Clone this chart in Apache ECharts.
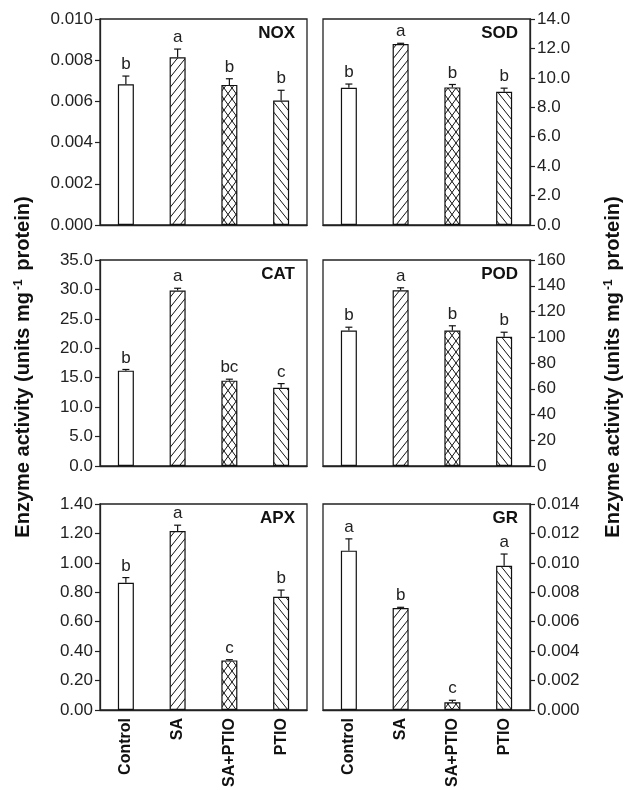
<!DOCTYPE html>
<html>
<head>
<meta charset="utf-8">
<script src="https://cdn.jsdelivr.net/npm/echarts@6/dist/echarts.min.js"></script>
<style>
    html, body { margin: 0; padding: 0; background: #fff; }
    #chart { width: 628px; height: 790px; }
</style>
</head>
<body>
<div id="chart"></div>
<script>
var categories = ['Control', 'SA', 'SA+PTIO', 'PTIO'];

var noxMean = [0.00683, 0.00814, 0.00680, 0.00604];
var noxErr = [0.0004, 0.0004, 0.0003, 0.0005];
var noxLetters = ['b', 'a', 'b', 'b'];

var sodMean = [9.33, 12.3, 9.35, 9.05];
var sodErr = [0.25, 0.05, 0.2, 0.25];
var sodLetters = ['b', 'a', 'b', 'b'];

var catMean = [16.2, 29.8, 14.5, 13.3];
var catErr = [0.2, 0.4, 0.25, 0.7];
var catLetters = ['b', 'a', 'bc', 'c'];

var podMean = [105.2, 136.5, 105.2, 100.3];
var podErr = [2.6, 1.9, 3.7, 3.6];
var podLetters = ['b', 'a', 'b', 'b'];

var apxMean = [0.865, 1.216, 0.337, 0.770];
var apxErr = [0.035, 0.04, 0.005, 0.045];
var apxLetters = ['b', 'a', 'c', 'b'];

var grMean = [0.01083, 0.00693, 0.00052, 0.0098];
var grErr = [0.0008, 0.00005, 0.00014, 0.0008];
var grLetters = ['a', 'b', 'c', 'a'];

// axis scales: [max, interval, decimals]
var noxScale = [0.010, 0.002, 3];
var sodScale = [14, 2, 1];
var catScale = [35, 5, 1];
var podScale = [160, 20, 0];
var apxScale = [1.4, 0.2, 2];
var grScale = [0.014, 0.002, 3];

var yTitle = 'Enzyme activity (units mg{sup|-1} protein)';

var FONT = '"Liberation Sans", Arial, Helvetica, sans-serif';

// hatch pattern tiles
function makeTile(w, h, dirs) {
    var c = document.createElement('canvas');
    c.width = w;
    c.height = h;
    var ctx = c.getContext('2d');
    ctx.fillStyle = '#fff';
    ctx.fillRect(0, 0, w, h);
    ctx.strokeStyle = '#111';
    ctx.lineWidth = 1;
    dirs.forEach(function (d) {
        for (var k = -1; k <= 1; k++) {
            ctx.beginPath();
            if (d === '/') {
                ctx.moveTo(k * w, h);
                ctx.lineTo(k * w + w, 0);
            } else {
                ctx.moveTo(k * w, 0);
                ctx.lineTo(k * w + w, h);
            }
            ctx.stroke();
        }
    });
    return c;
}

var fills = [
    '#fff',
    {image: makeTile(8, 10, ['/']), repeat: 'repeat'},
    {image: makeTile(8, 11, ['/', '\\']), repeat: 'repeat'},
    {image: makeTile(8, 10, ['\\']), repeat: 'repeat'}
];

var panels = [
    {name: 'NOX', mean: noxMean, err: noxErr, letters: noxLetters, scale: noxScale, col: 0, row: 0},
    {name: 'SOD', mean: sodMean, err: sodErr, letters: sodLetters, scale: sodScale, col: 1, row: 0},
    {name: 'CAT', mean: catMean, err: catErr, letters: catLetters, scale: catScale, col: 0, row: 1},
    {name: 'POD', mean: podMean, err: podErr, letters: podLetters, scale: podScale, col: 1, row: 1},
    {name: 'APX', mean: apxMean, err: apxErr, letters: apxLetters, scale: apxScale, col: 0, row: 2},
    {name: 'GR', mean: grMean, err: grErr, letters: grLetters, scale: grScale, col: 1, row: 2}
];

var colLeft = [100, 323];
var rowTop = [19, 260, 504];
var gridW = 207;
var gridH = 206;

var grids = [], xAxes = [], yAxes = [], series = [], graphics = [];

panels.forEach(function (p, i) {
    var left = colLeft[p.col];
    var top = rowTop[p.row];

    grids.push({
        left: left, top: top, width: gridW, height: gridH,
        show: true, borderColor: '#222', borderWidth: 1.3, backgroundColor: 'transparent'
    });

    xAxes.push({
        type: 'category',
        gridIndex: i,
        data: categories,
        axisLine: {show: true, lineStyle: {color: '#222', width: 1.3}},
        axisTick: {show: false},
        axisLabel: {
            show: p.row === 2,
            rotate: 90,
            margin: 8,
            fontFamily: FONT,
            fontSize: 16,
            fontWeight: 'bold',
            color: '#111'
        }
    });

    var decimals = p.scale[2];
    yAxes.push({
        type: 'value',
        gridIndex: i,
        position: p.col === 0 ? 'left' : 'right',
        min: 0,
        max: p.scale[0],
        interval: p.scale[1],
        splitLine: {show: false},
        axisLine: {show: true, lineStyle: {color: '#222', width: 1.3}},
        axisTick: {show: true, length: 5, lineStyle: {color: '#222', width: 1.2}},
        axisLabel: {
            margin: 7,
            fontFamily: FONT,
            fontSize: 17,
            color: '#222',
            formatter: function (v) {
                return v.toFixed(decimals);
            }
        }
    });

    series.push({
        type: 'bar',
        xAxisIndex: i,
        yAxisIndex: i,
        barWidth: 16,
        data: p.mean.map(function (v, k) {
            return {
                value: v,
                itemStyle: {color: fills[k], borderColor: '#111', borderWidth: 1.2}
            };
        })
    });

    series.push({
        type: 'custom',
        xAxisIndex: i,
        yAxisIndex: i,
        data: p.mean.map(function (v, k) {
            return [k, v, p.err[k], p.letters[k]];
        }),
        renderItem: function (params, api) {
            var k = api.value(0);
            var base = api.coord([k, api.value(1)]);
            var tip = api.coord([k, api.value(1) + api.value(2)]);
            return {
                type: 'group',
                children: [
                    {
                        type: 'line',
                        shape: {x1: base[0], y1: base[1], x2: tip[0], y2: tip[1]},
                        style: {stroke: '#111', lineWidth: 1.2}
                    },
                    {
                        type: 'line',
                        shape: {x1: tip[0] - 3.5, y1: tip[1], x2: tip[0] + 3.5, y2: tip[1]},
                        style: {stroke: '#111', lineWidth: 1.2}
                    },
                    {
                        type: 'text',
                        x: tip[0],
                        y: tip[1] - 3,
                        style: {
                            text: p.letters[k],
                            align: 'center',
                            verticalAlign: 'bottom',
                            fontFamily: FONT,
                            fontSize: 17,
                            fill: '#222'
                        }
                    }
                ]
            };
        }
    });

    graphics.push({
        type: 'text',
        x: left + gridW - 12,
        y: top + 14,
        style: {
            text: p.name,
            align: 'right',
            verticalAlign: 'middle',
            fontFamily: FONT,
            fontSize: 17,
            fontWeight: 'bold',
            fill: '#111'
        }
    });
});

// y axis titles on both sides
[23, 613].forEach(function (x) {
    graphics.push({
        type: 'text',
        x: x,
        y: 367,
        rotation: Math.PI / 2,
        style: {
            text: yTitle,
            align: 'center',
            verticalAlign: 'middle',
            fontFamily: FONT,
            fontSize: 20,
            fontWeight: 'bold',
            fill: '#111',
            rich: {
                sup: {
                    fontFamily: FONT,
                    fontSize: 12,
                    fontWeight: 'bold',
                    verticalAlign: 'top',
                    padding: [0, 3, 9, 2]
                }
            }
        }
    });
});

var myChart = echarts.init(document.getElementById('chart'), null, {renderer: 'canvas'});

myChart.setOption({
    animation: false,
    backgroundColor: '#fff',
    grid: grids,
    xAxis: xAxes,
    yAxis: yAxes,
    series: series,
    graphic: graphics
});
</script>
</body>
</html>
